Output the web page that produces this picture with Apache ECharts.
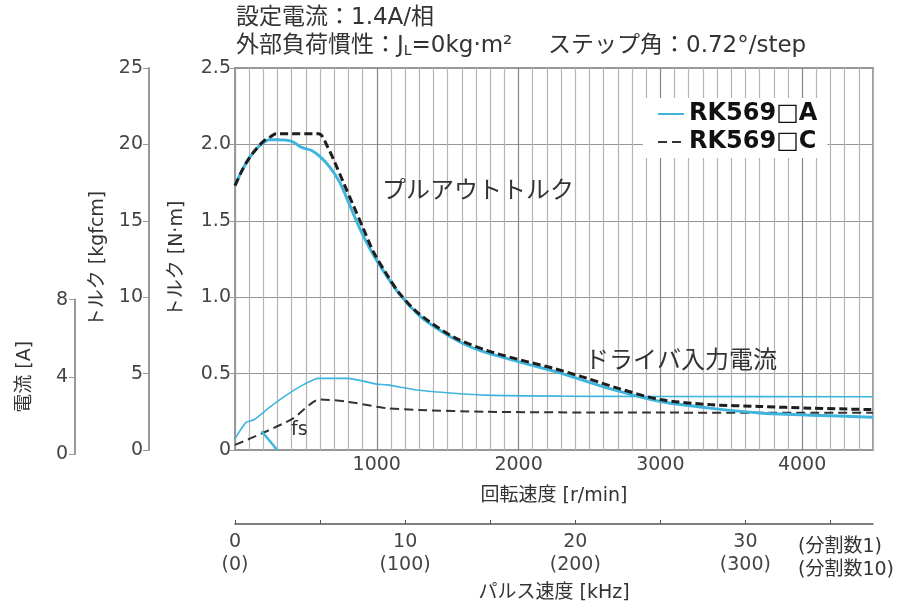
<!DOCTYPE html>
<html><head><meta charset="utf-8">
<script src="https://cdn.jsdelivr.net/npm/echarts@6/dist/echarts.min.js"></script>
<style>html,body{margin:0;padding:0;background:#fff}#c{width:904px;height:608px}</style>
</head><body><div id="c"></div>
<script>
// ---- data ----
const seriesNames = ['RK569□A', 'RK569□C'];
// pull-out torque, RK569□A  [r/min] -> [N·m]
const rpmTorqueA = [0, 50, 100, 150, 200, 240, 300, 400, 470, 540, 600, 670, 740, 810, 880, 950, 1020, 1160, 1300, 1450, 1590, 1730, 2010, 2290, 2650, 3000, 3350, 3700, 4060, 4500];
const torqueA    = [1.73, 1.83, 1.91, 1.97, 2.01, 2.03, 2.03, 2.02, 1.98, 1.96, 1.92, 1.85, 1.75, 1.60, 1.45, 1.32, 1.21, 1.02, 0.88, 0.78, 0.705, 0.65, 0.575, 0.505, 0.40, 0.317, 0.274, 0.242, 0.228, 0.215];
// pull-out torque, RK569□C
const rpmTorqueC = [0, 50, 100, 150, 200, 250, 290, 590, 650, 705, 765, 835, 905, 975, 1070, 1165, 1300, 1540, 1775, 2010, 2245, 2480, 2715, 3000, 3350, 3700, 4060, 4500];
const torqueC    = [1.73, 1.83, 1.91, 1.97, 2.02, 2.05, 2.07, 2.07, 1.99, 1.88, 1.75, 1.60, 1.45, 1.30, 1.15, 1.02, 0.89, 0.74, 0.652, 0.59, 0.535, 0.47, 0.40, 0.33, 0.297, 0.285, 0.274, 0.264];
// driver input current [A]
const rpmCurrentA = [0, 80, 130, 250, 365, 480, 590, 790, 1000, 1070, 1300, 1540, 1775, 2300, 3000, 4500];
const currentA    = [0.8, 1.65, 1.76, 2.45, 3.06, 3.58, 3.92, 3.92, 3.62, 3.58, 3.30, 3.15, 3.05, 3.0, 2.98, 2.97];
const rpmCurrentC = [0, 200, 410, 600, 790, 1000, 1070, 1300, 1770, 2500, 4500];
const currentC    = [0.47, 1.10, 1.85, 2.83, 2.71, 2.45, 2.37, 2.28, 2.19, 2.15, 2.14];
// fs (starting) line, RK569□A
const rpmFs = [188, 298];
const torqueFs = [0.123, 0];
// tick labels
const rpmLabels = [1000, 2000, 3000, 4000];
const pulseTicks = [0, 5, 10, 15, 20, 25, 30, 35];
const pulseLabels = [0, 10, 20, 30];
const pulseSubLabels = ['(0)', '(100)', '(200)', '(300)'];

const zip = (xs, ys) => xs.map((x, i) => [x, ys[i]]);

const FONT = 'DejaVu Sans, "Noto Sans CJK JP", sans-serif';
const L = 235, T = 68, W = 638, H = 386;
const CYAN = '#3fb5dd';
const BLACK = '#1e1e1e';
const LABEL = '#444';
const AXIS = '#999';
const minorGrid = '#b4b4b4', majorGrid = '#858585';
const gridColors = [majorGrid].concat(Array(9).fill(minorGrid));
const titleStyle = {fontSize: 23, fontWeight: 'normal', color: '#333', fontFamily: FONT, lineHeight: 24};

const chart = echarts.init(document.getElementById('c'), null, {renderer: 'canvas'});
chart.setOption({
  animation: false,
  backgroundColor: '#fff',
  title: [
    {text: '設定電流：1.4A/相', left: 236, top: 6, padding: 0, textStyle: titleStyle},
    {text: '外部負荷慣性：J{s|L}=0kg·m²', left: 236, top: 34, padding: 0,
     textStyle: Object.assign({}, titleStyle,
       {rich: {s: {fontSize: 14, lineHeight: 14, verticalAlign: 'bottom', color: '#333', fontFamily: FONT}}})},
    {text: 'ステップ角：0.72°/step', left: 548, top: 34, padding: 0, textStyle: titleStyle}
  ],
  legend: {
    data: seriesNames, orient: 'vertical', left: 643, top: 98,
    backgroundColor: '#fff', padding: [4, 10, 4, 14], itemGap: 4,
    itemWidth: 26, itemHeight: 14,
    itemStyle: {opacity: 0},
    textStyle: {fontSize: 24, fontWeight: 'bold', color: '#111', fontFamily: FONT}
  },
  grid: [
    {left: L, top: T, width: W, height: H, show: true, borderColor: AXIS, borderWidth: 2},
    {left: L, top: T + H * 0.6, width: W, height: H * 0.4}
  ],
  xAxis: [
    {gridIndex: 0, type: 'value', min: 0, max: 4500, interval: 100,
     axisLine: {show: false}, axisTick: {show: false},
     splitLine: {show: true, lineStyle: {color: gridColors, width: 1.2}},
     axisLabel: {formatter: v => rpmLabels.includes(v) ? String(v) : '', fontSize: 19, color: LABEL, margin: 6, fontFamily: FONT},
     name: '回転速度 [r/min]', nameLocation: 'middle', nameGap: 37,
     nameTextStyle: {fontSize: 19, color: '#333', fontFamily: FONT}},
    {gridIndex: 1, type: 'value', min: 0, max: 4500, show: false},
    {gridIndex: 0, type: 'value', position: 'bottom', offset: 74, min: 0, max: 37.5, interval: 5,
     axisLine: {show: true, onZero: false, lineStyle: {color: '#555', width: 1.5}},
     axisTick: {show: true, inside: true, length: 4, customValues: pulseTicks, lineStyle: {color: '#555'}},
     splitLine: {show: false},
     axisLabel: {
       formatter: v => { const i = pulseLabels.indexOf(v); return i < 0 ? '' : v + '\n' + pulseSubLabels[i]; },
       fontSize: 19, lineHeight: 23, color: LABEL, margin: 7, fontFamily: FONT},
     name: 'パルス速度 [kHz]', nameLocation: 'middle', nameGap: 60,
     nameTextStyle: {fontSize: 19, color: '#333', fontFamily: FONT}}
  ],
  yAxis: [
    {gridIndex: 0, type: 'value', min: 0, max: 2.5, interval: 0.5,
     axisLine: {show: true, lineStyle: {color: AXIS, width: 2}},
     axisTick: {show: true, length: 5, lineStyle: {color: AXIS}},
     splitLine: {show: true, lineStyle: {color: '#959595', width: 1.2}},
     axisLabel: {formatter: v => v === 0 ? '0' : v.toFixed(1), margin: 4, fontSize: 19, color: LABEL, fontFamily: FONT},
     name: 'トルク [N·m]', nameLocation: 'middle', nameGap: 48,
     nameTextStyle: {fontSize: 19, color: '#333', fontFamily: FONT}},
    {gridIndex: 0, type: 'value', min: 0, max: 25, interval: 5, position: 'left', offset: 86,
     axisLine: {show: true, onZero: false, lineStyle: {color: AXIS, width: 2}},
     axisTick: {show: true, length: 6, lineStyle: {color: AXIS}},
     splitLine: {show: false},
     axisLabel: {margin: 6, fontSize: 19, color: LABEL, fontFamily: FONT},
     name: 'トルク [kgfcm]', nameLocation: 'middle', nameGap: 36,
     nameTextStyle: {fontSize: 19, color: '#333', fontFamily: FONT}},
    {gridIndex: 1, type: 'value', min: 0, max: 8, interval: 4, position: 'left', offset: 160,
     axisLine: {show: true, onZero: false, lineStyle: {color: AXIS, width: 2}},
     axisTick: {show: true, length: 6, lineStyle: {color: AXIS}},
     splitLine: {show: false},
     axisLabel: {margin: 7, fontSize: 19, color: LABEL, fontFamily: FONT},
     name: '電流 [A]', nameLocation: 'middle', nameGap: 40,
     nameTextStyle: {fontSize: 19, color: '#333', fontFamily: FONT}}
  ],
  series: [
    {name: seriesNames[1], type: 'line', xAxisIndex: 1, yAxisIndex: 2, data: zip(rpmCurrentC, currentC),
     symbol: 'none', smooth: 0.25, z: 2,
     lineStyle: {color: '#333', width: 2, type: [9, 5]}, itemStyle: {color: BLACK}},
    {name: seriesNames[0], type: 'line', xAxisIndex: 1, yAxisIndex: 2, data: zip(rpmCurrentA, currentA),
     symbol: 'none', smooth: 0.25, z: 2,
     lineStyle: {color: CYAN, width: 1.6}, itemStyle: {color: CYAN}},
    {name: 'fs', type: 'line', xAxisIndex: 0, yAxisIndex: 0, data: zip(rpmFs, torqueFs),
     symbol: 'none', z: 3, lineStyle: {color: CYAN, width: 2.5}},
    {name: seriesNames[0], type: 'line', xAxisIndex: 0, yAxisIndex: 0, data: zip(rpmTorqueA, torqueA),
     symbol: 'none', smooth: 0.3, z: 4,
     lineStyle: {color: CYAN, width: 3}, itemStyle: {color: CYAN}},
    {name: seriesNames[1], type: 'line', xAxisIndex: 0, yAxisIndex: 0, data: zip(rpmTorqueC, torqueC),
     symbol: 'none', smooth: 0.3, z: 5,
     lineStyle: {color: BLACK, width: 3, type: [8, 4]}, itemStyle: {color: BLACK}}
  ],
  graphic: [
    {type: 'text', left: 382, top: 180, z: 10,
     style: {text: 'プルアウトトルク', fontSize: 24, fill: '#333', fontFamily: FONT}},
    {type: 'text', left: 585, top: 350, z: 10,
     style: {text: 'ドライバ入力電流', fontSize: 24, fill: '#333', fontFamily: FONT}},
    {type: 'text', left: 291, top: 421, z: 10,
     style: {text: 'fs', fontSize: 19, fill: '#333', fontFamily: FONT}},
    {type: 'text', left: 798, top: 536, z: 10,
     style: {text: '(分割数1)\n(分割数10)', fontSize: 19, lineHeight: 23, fill: '#333', fontFamily: FONT}}
  ]
});
</script></body></html>
